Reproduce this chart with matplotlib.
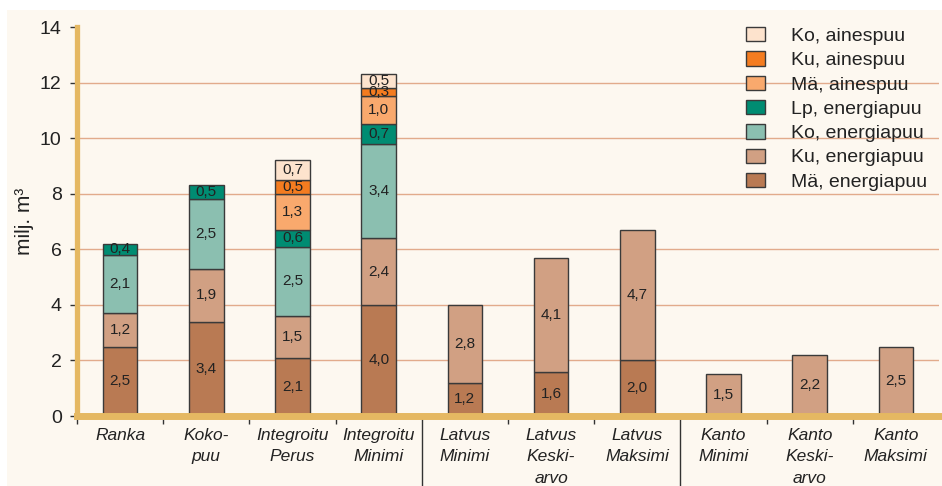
import numpy as np
import matplotlib.pyplot as plt
from matplotlib.patches import Rectangle, Patch

# categories (x axis)
categories = ['Ranka', 'Koko-\npuu', 'Integroitu\nPerus', 'Integroitu\nMinimi',
              'Latvus\nMinimi', 'Latvus\nKeski-\narvo', 'Latvus\nMaksimi',
              'Kanto\nMinimi', 'Kanto\nKeski-\narvo', 'Kanto\nMaksimi']

# series, bottom to top (milj. m3)
ma_energia = [2.5, 3.4, 2.1, 4.0, 1.2, 1.6, 2.0, 0, 0, 0]
ku_energia = [1.2, 1.9, 1.5, 2.4, 2.8, 4.1, 4.7, 1.5, 2.2, 2.5]
ko_energia = [2.1, 2.5, 2.5, 3.4, 0, 0, 0, 0, 0, 0]
lp_energia = [0.4, 0.5, 0.6, 0.7, 0, 0, 0, 0, 0, 0]
ma_aines = [0, 0, 1.3, 1.0, 0, 0, 0, 0, 0, 0]
ku_aines = [0, 0, 0.5, 0.3, 0, 0, 0, 0, 0, 0]
ko_aines = [0, 0, 0.7, 0.5, 0, 0, 0, 0, 0, 0]

series_names = ['Mä, energiapuu', 'Ku, energiapuu', 'Ko, energiapuu', 'Lp, energiapuu',
                'Mä, ainespuu', 'Ku, ainespuu', 'Ko, ainespuu']
series_vals = [ma_energia, ku_energia, ko_energia, lp_energia, ma_aines, ku_aines, ko_aines]
colors = ['#b97a53', '#d1a083', '#8bbfb0', '#008c72', '#f9a96d', '#f47c20', '#fde3cd']

yticks = [0, 2, 4, 6, 8, 10, 12, 14]
gridvals = [2, 4, 6, 8, 10, 12]

bg = '#fdf8f0'
gold = '#e5b862'
plt.rcParams['font.family'] = ['Liberation Sans', 'DejaVu Sans']

fig = plt.figure(figsize=(9.42, 4.86), dpi=100, facecolor='white')
fig.patches.append(Rectangle((7 / 942, 0), 1, 1 - 10 / 486, transform=fig.transFigure,
                             facecolor=bg, edgecolor='none', zorder=-10))
ax = fig.add_axes([77 / 942, 70 / 486, (939 - 77) / 942, 389 / 486])
ax.set_facecolor(bg)

x = np.arange(len(categories))
bottom = np.zeros(len(categories))
for name, vals, col in zip(series_names, series_vals, colors):
    vals = np.array(vals, dtype=float)
    mask = vals > 0
    ax.bar(x[mask], vals[mask], 0.4, bottom=bottom[mask], color=col,
           edgecolor='#3a3a3a', linewidth=1.0, zorder=3)
    for xi, v, b in zip(x[mask], vals[mask], bottom[mask]):
        ax.text(xi, b + v / 2, ('%.1f' % v).replace('.', ','), ha='center', va='center',
                fontsize=11, color='#222222', zorder=4)
    bottom += vals

for g in gridvals:
    ax.axhline(g, color='#e2ab8c', linewidth=1.0, zorder=1)

ax.set_xlim(-0.5, 9.5)
ax.set_ylim(0, 14)
for s in ['top', 'right']:
    ax.spines[s].set_visible(False)
ax.spines['left'].set_color(gold)
ax.spines['left'].set_linewidth(3.8)
ax.spines['bottom'].set_color(gold)
ax.spines['bottom'].set_linewidth(5)
ax.spines['left'].set_zorder(5)
ax.spines['bottom'].set_zorder(5)

ax.set_yticks(yticks)
ax.set_yticklabels([str(t) for t in yticks])
ax.tick_params(axis='y', direction='out', length=5, width=1, color='#333333',
               labelsize=14, pad=6, labelcolor='#222222')

bounds = [-0.5, 0.5, 1.5, 2.5, 4.5, 5.5, 7.5, 8.5]
ax.set_xticks(bounds)
ax.set_xticklabels([])
ax.tick_params(axis='x', direction='out', length=6, width=1, color='#333333')

for b in [3.5, 6.5]:
    ax.plot([b, b], [0, -3.5], color='#333333', linewidth=1, clip_on=False, zorder=2)

for xi, lab in zip(x, categories):
    ax.text(xi, -0.42, lab, ha='center', va='top', fontsize=12.5, style='italic',
            color='#222222', linespacing=1.55, transform=ax.transData)

ax.set_ylabel('milj. m³', fontsize=15, color='#222222', labelpad=4)

handles = [Patch(facecolor=c, edgecolor='#3a3a3a', linewidth=1) for c in colors]
leg = ax.legend(handles[::-1], series_names[::-1], loc='upper right',
                bbox_to_anchor=(1.0, 1.03), frameon=False, fontsize=14,
                handlelength=0.95, handleheight=0.75, handletextpad=1.35,
                labelspacing=0.33, borderaxespad=0.2)
for t in leg.get_texts():
    t.set_color('#222222')

fig.savefig('out.png', dpi=100, facecolor='white')
